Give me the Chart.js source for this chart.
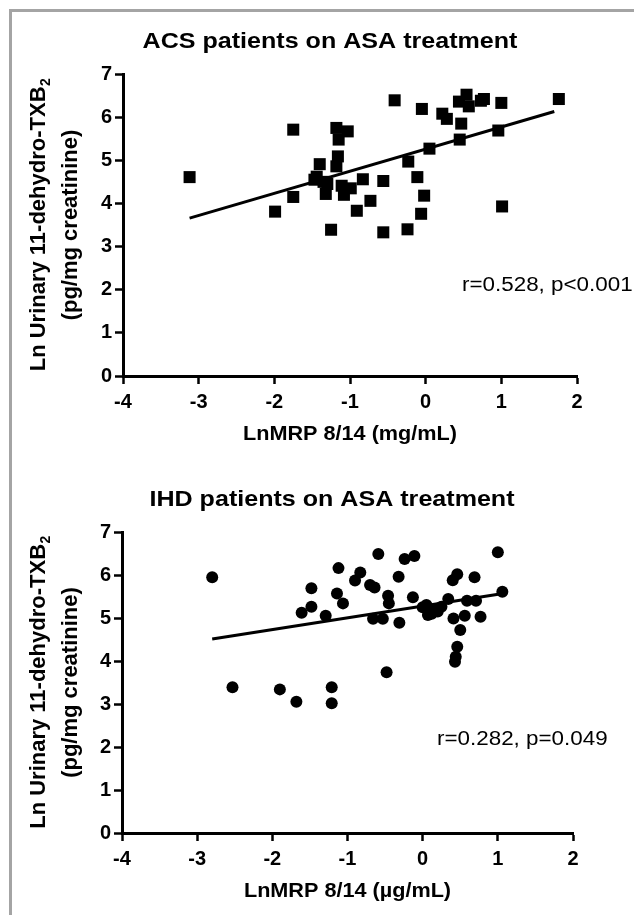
<!DOCTYPE html>
<html>
<head>
<meta charset="utf-8">
<script src="https://cdn.jsdelivr.net/npm/chart.js@4"></script>
<style>
  html, body { margin: 0; padding: 0; background: #fff; }
  #page { position: relative; width: 634px; height: 915px; overflow: hidden; background: #fff; }
  #frame { position: absolute; left: 9px; top: 9px; width: 800px; height: 1000px;
           border-top: 3px solid #a4a4a4; border-left: 3px solid #a4a4a4; }
  .panel { position: absolute; left: 0; width: 634px; }
</style>
</head>
<body>
<div id="page">
  <div id="frame"></div>
  <div class="panel" style="top:0;height:457px"><canvas id="acsChart"></canvas></div>
  <div class="panel" style="top:457px;height:458px"><canvas id="ihdChart"></canvas></div>
</div>
<script>
// Axis ticks shared by both panels
const xTicks = [-4, -3, -2, -1, 0, 1, 2];
const yTicks = [0, 1, 2, 3, 4, 5, 6, 7];

// ACS patients: LnMRP 8/14 (mg/mL) vs Ln urinary 11-dehydro-TXB2
const acsX = [-3.12, -1.75, -1.99, -1.75, -1.40, -1.47, -1.35, -1.32, -1.25, -1.18,
              -1.03, -1.15, -1.16, -1.18, -1.11, -1.08, -0.99, -0.83, -0.73, -0.91,
              -0.56, -0.56, -0.41, -0.24, -0.23, -0.11, -0.02, -0.06, -0.05, 0.05,
              0.22, 0.28, 0.45, 0.47, 0.44, 0.54, 0.57, 0.77, 1.00, 0.96,
              1.01, 1.76, -1.44, -1.30, 0.73];
const acsY = [4.61, 5.71, 3.81, 4.15, 4.91, 4.55, 4.50, 4.22, 3.39, 5.75,
              5.67, 5.48, 5.09, 4.86, 4.41, 4.20, 4.35, 4.56, 4.06, 3.83,
              4.52, 3.33, 6.39, 3.40, 4.97, 4.61, 4.18, 3.76, 6.19, 5.27,
              6.08, 5.96, 5.48, 5.85, 6.36, 6.52, 6.25, 6.42, 6.33, 5.69,
              3.93, 6.42, 4.62, 4.45, 6.38];
const acsFitX = [-3.12, 1.70];
const acsFitY = [3.66, 6.13];

// IHD patients: LnMRP 8/14 (µg/mL) vs Ln urinary 11-dehydro-TXB2
const ihdX = [-2.80, -1.48, -1.48, -1.61, -1.29, -1.12, -1.14, -1.06, -0.90, -0.83,
              -0.70, -0.64, -0.59, -0.46, -0.45, -0.66, -0.53, -0.31, -0.32, -0.24,
              -0.11, -0.13, -0.48, 0.00, 0.07, 0.14, 0.20, 0.25, 0.34, 0.40,
              0.46, 0.41, 0.56, 0.50, 0.59, 0.71, 0.69, 0.77, 0.46, 0.44,
              0.43, 1.00, 1.06, -2.53, -1.90, -1.68, -1.21, -1.21, 0.05, 0.12];
const ihdY = [5.95, 5.69, 5.26, 5.12, 5.05, 6.16, 5.57, 5.34, 5.87, 6.06,
              5.77, 5.71, 6.49, 5.52, 5.34, 4.98, 4.98, 4.89, 5.96, 6.37,
              6.44, 5.48, 3.74, 5.25, 5.07, 5.19, 5.15, 5.26, 5.44, 5.88,
              6.02, 4.99, 5.05, 4.72, 5.40, 5.40, 5.95, 5.03, 4.33, 4.10,
              3.98, 6.53, 5.61, 3.39, 3.34, 3.05, 3.39, 3.02, 5.30, 5.10];
const ihdFitX = [-2.80, 1.07];
const ihdFitY = [4.51, 5.57];

const FONT = "'Liberation Sans', Arial, Helvetica, sans-serif";
const yTitleMain = 'Ln Urinary 11-dehydro-TXB';
const yTitleSub = '2';
const yTitleUnits = '(pg/mg creatinine)';

function toPoints(xs, ys) { return xs.map((x, i) => ({ x: x, y: ys[i] })); }

// Horizontal text with a slight widening, as in the printed figure
function wideText(ctx, text, x, y, font, sx, align) {
  ctx.save();
  ctx.font = font;
  ctx.textBaseline = 'alphabetic';
  ctx.textAlign = align;
  ctx.translate(x, y);
  ctx.scale(sx, 1);
  ctx.fillText(text, 0, 0);
  ctx.restore();
}

const panelText = {
  id: 'panelText',
  afterDraw(chart, args, o) {
    const ctx = chart.ctx, a = chart.chartArea;
    ctx.save();
    ctx.fillStyle = '#000';
    // panel heading
    wideText(ctx, o.heading, o.headingX, a.top - 26, 'bold 22px ' + FONT, 1.14, 'center');
    // x axis title
    wideText(ctx, o.xTitle, (a.left + a.right) / 2, a.bottom + 64, 'bold 21px ' + FONT, 1.03, 'center');
    // correlation note
    wideText(ctx, o.note, o.noteX, a.bottom - o.noteUp, '20px ' + FONT, 1.12, 'left');

    // rotated two-line y axis title with subscript
    const cy = (a.top + a.bottom) / 2;
    ctx.font = 'bold 22px ' + FONT;
    const wMain = ctx.measureText(yTitleMain).width;
    ctx.font = 'bold 14px ' + FONT;
    const wSub = ctx.measureText(yTitleSub).width;
    const total = wMain + wSub;
    ctx.save();
    ctx.translate(o.yTitleX1, cy);
    ctx.rotate(-Math.PI / 2);
    ctx.textAlign = 'left';
    ctx.textBaseline = 'middle';
    ctx.font = 'bold 22px ' + FONT;
    ctx.fillText(yTitleMain, -total / 2, 0);
    ctx.font = 'bold 14px ' + FONT;
    ctx.fillText(yTitleSub, -total / 2 + wMain + 0.5, 7);
    ctx.restore();

    ctx.save();
    ctx.translate(o.yTitleX2, cy);
    ctx.rotate(-Math.PI / 2);
    ctx.textAlign = 'center';
    ctx.textBaseline = 'middle';
    ctx.font = 'bold 22px ' + FONT;
    ctx.fillText(yTitleUnits, 0, 0);
    ctx.restore();
    ctx.restore();
  }
};

function makePanel(id, xs, ys, fitX, fitY, style, radius, frame, text) {
  const canvas = document.getElementById(id);
  const H = canvas.parentNode.clientHeight, W = 634;
  const axisTicks = {
    color: '#000',
    font: { family: FONT, size: 20, weight: 'bold' }
  };
  const grid = {
    display: true, drawOnChartArea: false, drawTicks: true,
    tickLength: 8, tickWidth: 2.5, tickColor: '#000', color: '#000'
  };
  return new Chart(canvas, {
    type: 'scatter',
    data: {
      datasets: [
        {
          data: toPoints(xs, ys),
          pointStyle: style, pointRadius: radius, pointHoverRadius: radius,
          backgroundColor: '#000', borderColor: '#000', borderWidth: 0
        },
        {
          data: toPoints(fitX, fitY),
          showLine: true, pointRadius: 0, borderColor: '#000', borderWidth: 3, fill: false
        }
      ]
    },
    options: {
      responsive: true, maintainAspectRatio: false, animation: false,
      devicePixelRatio: 1,
      layout: { padding: { left: 0, right: W - frame.right, top: frame.top, bottom: 0 } },
      plugins: { legend: { display: false }, tooltip: { enabled: false }, panelText: text },
      scales: {
        x: {
          type: 'linear', min: xTicks[0], max: xTicks[xTicks.length - 1],
          afterBuildTicks: s => { s.ticks = xTicks.map(v => ({ value: v })); },
          afterFit: s => { s.height = H - frame.bottom; },
          ticks: Object.assign({ padding: 6, maxRotation: 0 }, axisTicks),
          grid: grid,
          border: { display: true, color: '#000', width: 3 }
        },
        y: {
          type: 'linear', min: yTicks[0], max: yTicks[yTicks.length - 1],
          afterBuildTicks: s => { s.ticks = yTicks.map(v => ({ value: v })); },
          afterFit: s => { s.width = frame.left; },
          ticks: Object.assign({ padding: 3 }, axisTicks),
          grid: grid,
          border: { display: true, color: '#000', width: 3 }
        }
      }
    },
    plugins: [panelText]
  });
}

makePanel('acsChart', acsX, acsY, acsFitX, acsFitY, 'rect', 8.5,
  { left: 123, right: 577, top: 74, bottom: 376 },
  { heading: 'ACS patients on ASA treatment', headingX: 330,
    xTitle: 'LnMRP 8/14 (mg/mL)', note: 'r=0.528, p<0.001', noteX: 462, noteUp: 85,
    yTitleX1: 39, yTitleX2: 71 });

makePanel('ihdChart', ihdX, ihdY, ihdFitX, ihdFitY, 'circle', 6,
  { left: 122, right: 573, top: 75, bottom: 376 },
  { heading: 'IHD patients on ASA treatment', headingX: 332,
    xTitle: 'LnMRP 8/14 (\u00B5g/mL)', note: 'r=0.282, p=0.049', noteX: 437, noteUp: 88,
    yTitleX1: 39, yTitleX2: 71 });
</script>
</body>
</html>
